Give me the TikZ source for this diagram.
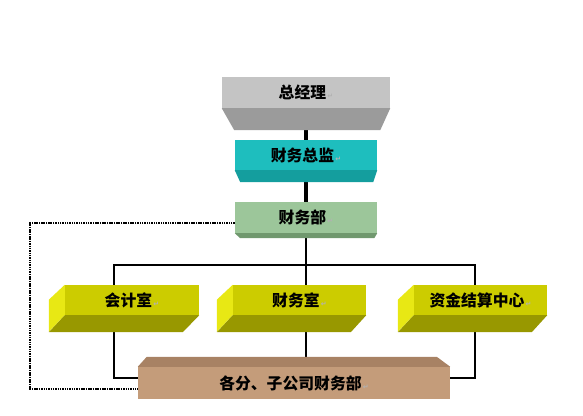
\documentclass[tikz,border=0pt]{standalone}
\usepackage{fontspec}
\usepackage{xcolor}
\usepackage{tikz}
\usetikzlibrary{backgrounds}
\newfontfamily\cjk{Noto Sans CJK SC}
\newfontfamily\djv{DejaVu Sans}
\newcommand{\pmark}{{\djv\fontsize{6}{6}\selectfont\color{black!30}\,↵}}
\definecolor{zjlF}{RGB}{196,196,196}
\definecolor{zjlB}{RGB}{155,155,155}
\definecolor{cwzjF}{RGB}{30,190,190}
\definecolor{cwzjB}{RGB}{20,158,158}
\definecolor{cwbF}{RGB}{156,198,154}
\definecolor{cwbB}{RGB}{112,152,110}
\definecolor{yelF}{RGB}{204,204,0}
\definecolor{yelL}{RGB}{232,232,20}
\definecolor{yelB}{RGB}{152,152,0}
\definecolor{gfzF}{RGB}{196,156,122}
\definecolor{gfzT}{RGB}{168,130,100}

\begin{document}
\begin{tikzpicture}[x=0.03cm,y=-0.03cm,
  box/.style={inner sep=0pt, minimum height=0.9cm,
    font=\cjk\bfseries\fontsize{13.5}{13.5}\selectfont},
  trunk/.style={line width=3.8pt},
  tie/.style={line width=2.2pt},
  dots/.style={line width=1.8pt, dash pattern=on 1.3pt off 0.7pt}]
  \useasboundingbox (0,0) rectangle (583,415);
  % front faces
  \draw (306,92.5) node[box,fill=zjlF,minimum width=5.04cm,minimum height=0.93cm] (zjl) {总经理\pmark}
   (306,155) node[box,fill=cwzjF,minimum width=4.26cm] (cwzj) {财务总监\pmark}
   (306,217.5) node[box,fill=cwbF,minimum width=4.26cm,minimum height=0.93cm] (cwb) {财务部\pmark}
   (132,300) node[box,fill=yelF,minimum width=4.02cm] (kjs) {会计室\pmark}
   (299.5,300) node[box,fill=yelF,minimum width=3.99cm] (cws) {财务室\pmark}
   (480.5,300) node[box,fill=yelF,minimum width=3.99cm] (zjjs) {资金结算中心\pmark}
   (294,383) node[box,fill=gfzF,minimum width=9.36cm,minimum height=0.96cm] (gfz) {各分、子公司财务部\pmark};
  % side faces
  \fill[zjlB] (zjl.south west) -- (zjl.south east) -- ++(-10,22) -- ++(-146,0) -- cycle;
  \fill[cwzjB] (cwzj.south west) -- (cwzj.south east) -- ++(-4,12) -- ++(-133,0) -- cycle;
  \fill[cwbB] (cwb.south west) -- (cwb.south east) -- ++(-3,5) -- ++(-134,0) -- cycle;
  \foreach \n in {kjs,cws,zjjs}{
    \fill[yelL] (\n.north west) -- ++(-16,15) -- ++(0,32) -- (\n.south west) -- cycle;
    \fill[yelB] (\n.south west) -- ++(-16,17) -- ++(134,0) -- (\n.south east) -- cycle;
  }
  \fill[gfzT] (gfz.north west) -- ++(9,-10) -- ++(290,0) -- (gfz.north east) -- cycle;
  % connectors
  \coordinate (b1) at (114,265);
  \coordinate (b3) at (475,265);
  \coordinate (l1) at (114,378);
  \coordinate (l3) at (475,378);
  \coordinate (d1) at (30,223);
  \coordinate (d2) at (30,389);
  \begin{scope}[on background layer]
    \draw[trunk] (zjl) -- (cwzj);
    \draw[trunk] (cwzj) -- (cwb);
    \draw[tie] (cwb) -- (cwb.south |- b1);
    \draw[tie] (b1 |- kjs.north) -- (b1) -- (b3) -- (b3 |- zjjs.north);
    \draw[tie] (cwb.south |- b1) -- (cwb.south |- cws.north);
    \draw[tie] (b1 |- kjs.south) -- (l1) -- (l1 -| gfz.west);
    \draw[tie] (cwb.south |- cws.south) -- (cwb.south |- gfz.north);
    \draw[tie] (b3 |- zjjs.south) -- (l3) -- (l3 -| gfz.east);
  \end{scope}
  \draw[dots] (cwb.west |- d1) -- (d1) -- (d2) -- (gfz.west |- d2);
\end{tikzpicture}
\end{document}
